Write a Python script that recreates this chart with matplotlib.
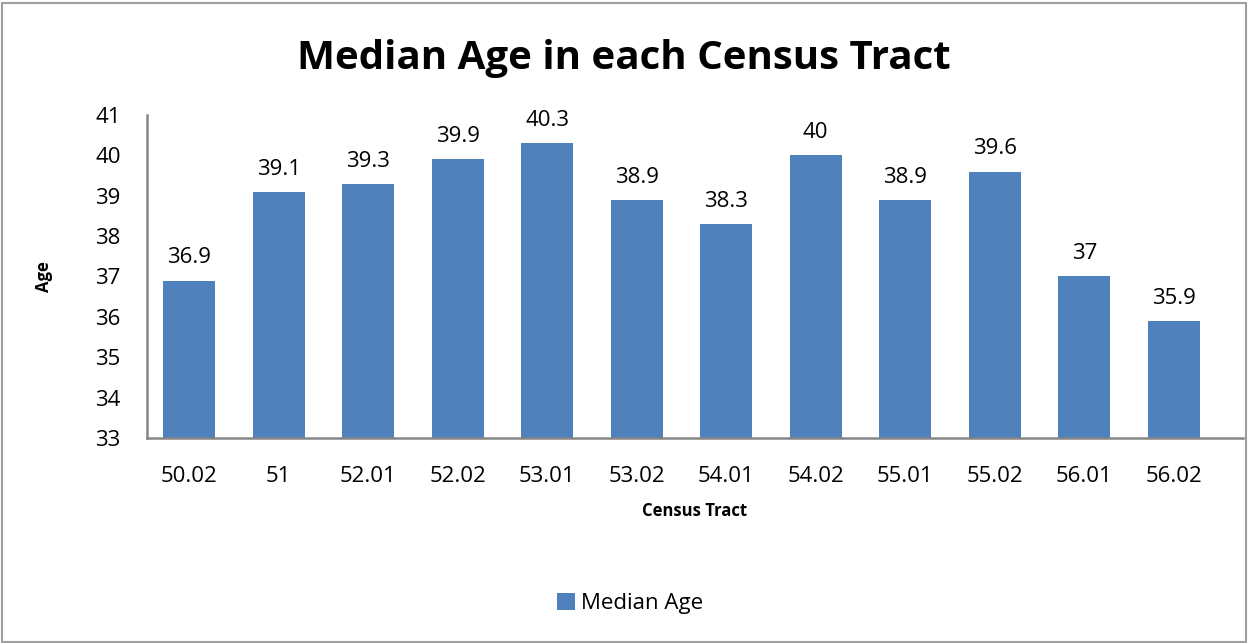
import matplotlib.pyplot as plt
from matplotlib.patches import Rectangle

tracts = ["50.02", "51", "52.01", "52.02", "53.01", "53.02", "54.01", "54.02", "55.01", "55.02", "56.01", "56.02"]
median_age = [36.9, 39.1, 39.3, 39.9, 40.3, 38.9, 38.3, 40.0, 38.9, 39.6, 37.0, 35.9]
yticks = [33, 34, 35, 36, 37, 38, 39, 40, 41]

plt.rcParams['font.family'] = ['Open Sans', 'DejaVu Sans']
bar_color = '#4f81bd'
axis_gray = '#868686'

fig = plt.figure(figsize=(12.48, 6.43), dpi=100)
# outer chart border
fig.patches.append(Rectangle((0.002, 0.002), 0.996, 0.993, transform=fig.transFigure,
                             fill=False, edgecolor='#a0a0a0', linewidth=1.5))

ax = fig.add_axes([0.1178, 0.3188, 0.878, 0.5024])
x = range(len(tracts))
bars = ax.bar(x, median_age, width=0.58, color=bar_color, label='Median Age', zorder=2)

ax.set_ylim(33, 41)
ax.set_xlim(-0.47, len(tracts) - 0.23)
ax.set_yticks(yticks)
ax.set_xticks(list(x))
ax.set_xticklabels(tracts)
ax.tick_params(axis='both', length=0, labelsize=16)
ax.tick_params(axis='x', pad=20)
ax.tick_params(axis='y', pad=19)

for s in ['top', 'right']:
    ax.spines[s].set_visible(False)
for s in ['left', 'bottom']:
    ax.spines[s].set_color(axis_gray)
    ax.spines[s].set_linewidth(1.8)

for i, v in enumerate(median_age):
    lbl = ('%g' % v)
    ax.text(i, v + 0.3, lbl, ha='center', va='bottom', fontsize=16)

ax.set_xlabel('Census Tract', fontsize=12, fontweight='bold', labelpad=11)
ax.set_ylabel('Age', fontsize=12, fontweight='bold', labelpad=30)

fig.suptitle('Median Age in each Census Tract', fontsize=29, fontweight='bold', y=0.94)

fig.legend(handles=[bars], labels=['Median Age'], loc='center', bbox_to_anchor=(0.505, 0.062),
           frameon=False, fontsize=16, handlelength=0.8, handleheight=0.8, handletextpad=0.3)

fig.savefig('out.png', dpi=100)
